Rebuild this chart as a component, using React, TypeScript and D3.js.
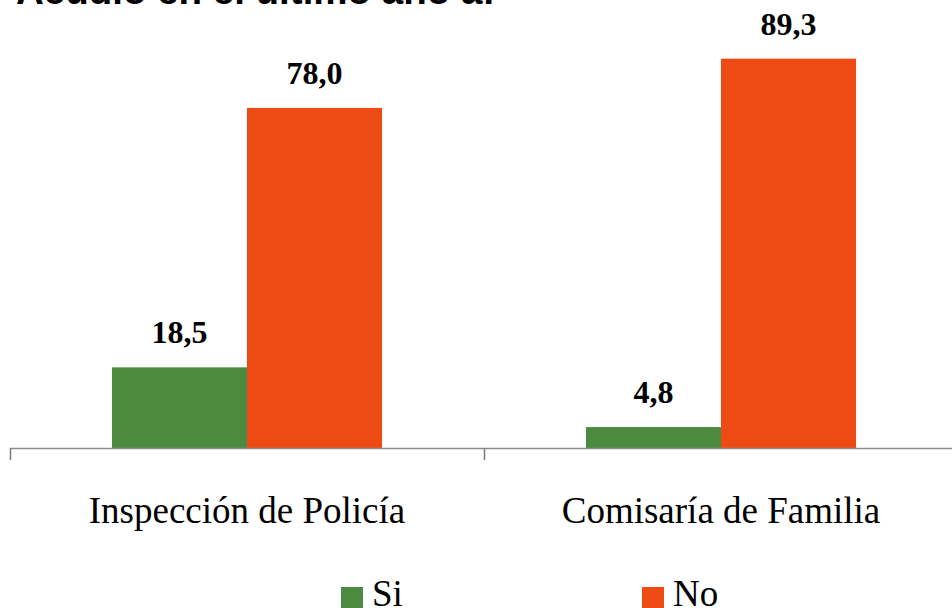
// @ts-nocheck
import { useEffect, useRef } from 'react';
import * as d3 from 'd3';

const categories = ['Inspección de Policía', 'Comisaría de Familia'];
const seriesNames = ['Si', 'No'];
const siValues = [18.5, 4.8];
const noValues = [78.0, 89.3];
const seriesColors = ['#4b8a3f', '#ee4a14'];
const title = 'Acudió en el último año a:';

const W = 952;
const H = 608;

export default function App() {
  const svgRef = useRef<SVGSVGElement>(null);

  useEffect(() => {
    const svg = d3.select(svgRef.current);
    svg.selectAll('*').remove();

    const baseY = 448;
    const x = d3.scaleBand().domain(categories).range([10, 958]).padding(0);
    const xs = d3.scaleBand().domain(seriesNames).range([0, x.bandwidth()]).paddingInner(0).paddingOuter(0.755);
    const y = d3.scaleLinear().domain([0, 100]).range([baseY, 12]);

    // title, mostly cut off at the top
    svg.append('text')
      .attr('x', 16)
      .attr('y', 4)
      .attr('font-family', '"Liberation Sans", Arial, sans-serif')
      .attr('font-weight', 'bold')
      .attr('font-size', '38.5px')
      .attr('fill', '#000')
      .text(title);

    const rows = categories.map((c, i) => ({ cat: c, values: [siValues[i], noValues[i]] }));

    rows.forEach((row) => {
      row.values.forEach((v, j) => {
        const bx = x(row.cat) + xs(seriesNames[j]);
        svg.append('rect')
          .attr('x', bx)
          .attr('y', y(v))
          .attr('width', xs.bandwidth())
          .attr('height', baseY - y(v))
          .attr('fill', seriesColors[j]);

        svg.append('text')
          .attr('x', bx + xs.bandwidth() / 2)
          .attr('y', y(v) - 24)
          .attr('text-anchor', 'middle')
          .attr('font-family', '"Liberation Serif", "Times New Roman", serif')
          .attr('font-weight', 'bold')
          .attr('font-size', '32px')
          .attr('fill', '#000')
          .text(v.toFixed(1).replace('.', ','));
      });
    });

    // axis
    svg.append('line')
      .attr('x1', 10).attr('x2', W)
      .attr('y1', baseY + 0.5).attr('y2', baseY + 0.5)
      .attr('stroke', '#8c8c8c')
      .attr('stroke-width', 1.5);

    categories.forEach((c) => {
      svg.append('line')
        .attr('x1', x(c) + 0.5).attr('x2', x(c) + 0.5)
        .attr('y1', baseY).attr('y2', baseY + 12)
        .attr('stroke', '#7a7a7a')
        .attr('stroke-width', 1.5);

      svg.append('text')
        .attr('x', x(c) + x.bandwidth() / 2)
        .attr('y', 523)
        .attr('text-anchor', 'middle')
        .attr('font-family', '"Liberation Serif", "Times New Roman", serif')
        .attr('font-size', '37px')
        .attr('fill', '#000')
        .text(c);
    });

    // legend
    const legendX = d3.scaleOrdinal().domain(seriesNames).range([341, 642]);
    seriesNames.forEach((s, j) => {
      svg.append('rect')
        .attr('x', legendX(s))
        .attr('y', 587)
        .attr('width', 22)
        .attr('height', 22)
        .attr('fill', seriesColors[j]);
      svg.append('text')
        .attr('x', legendX(s) + 31)
        .attr('y', 606)
        .attr('font-family', '"Liberation Serif", "Times New Roman", serif')
        .attr('font-size', '37px')
        .attr('fill', '#000')
        .text(s);
    });
  }, []);

  return (
    <svg
      ref={svgRef}
      width={W}
      height={H}
      style={{ position: 'fixed', top: 0, left: 0, background: '#fff' }}
    />
  );
}
